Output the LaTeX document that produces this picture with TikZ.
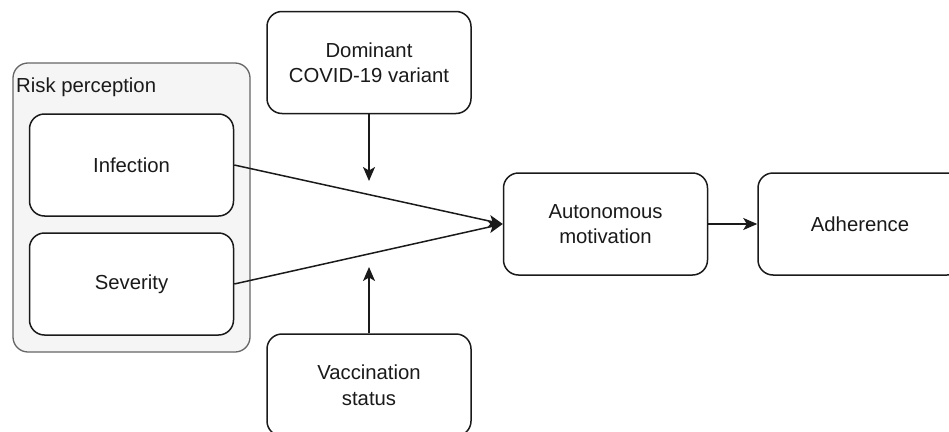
\documentclass[tikz,border=0pt]{standalone}
\usepackage{fontspec}
\setmainfont{Liberation Sans}
\usetikzlibrary{arrows.meta}
\definecolor{groupfill}{HTML}{F5F5F5}
\definecolor{groupline}{HTML}{666666}
\definecolor{ink}{HTML}{1A1A1A}
\tikzset{
  box/.style={draw=ink, line width=1.5pt, rounded corners=15pt, fill=white,
    minimum width=204pt, minimum height=102pt, align=center,
    font=\fontsize{20.3}{25.5}\selectfont, text=ink, inner sep=0pt},
  group/.style={draw=groupline, line width=1.3pt, rounded corners=15pt, fill=groupfill,
    minimum width=237pt, minimum height=289pt, inner sep=0pt},
  link/.style={draw=ink, line width=1.5pt,
    -{Stealth[length=14pt, width=12pt, inset=3.5pt]}}
}
\begin{document}
\begin{tikzpicture}[x=1pt, y=-1pt]
  \useasboundingbox (0,0) rectangle (949,431);
  % perception group with its two sub-boxes
  \node[group] (grp) at (131.5,207.5) {};
  \node[anchor=base west, font=\fontsize{20.3}{25.5}\selectfont, text=ink, inner sep=0pt]
    (grplabel) at (16,92) {Risk perception};
  \node[box] (inf) at (131.5,165) {Infection};
  \node[box] (sev) at (131.5,284) {Severity};
  % moderators
  \node[box] (dom) at (369,62.5) {Dominant\\COVID-19 variant};
  \node[box] (vac) at (369,385) {Vaccination\\status};
  % outcome chain
  \node[box] (aut) at (605.5,224) {Autonomous\\motivation};
  \node[box] (adh) at (860,224) {Adherence};
  % moderator arrow ends
  \coordinate (mtop) at (369,181);
  \coordinate (mbot) at (369,267);
  % connectors
  \draw[link] (inf.east) -- (aut.west);
  \draw[link] (sev.east) -- (aut.west);
  \draw[link] (dom.south) -- (mtop);
  \draw[link] (vac.north) -- (mbot);
  \draw[link] (aut.east) -- (adh.west);
\end{tikzpicture}
\end{document}
